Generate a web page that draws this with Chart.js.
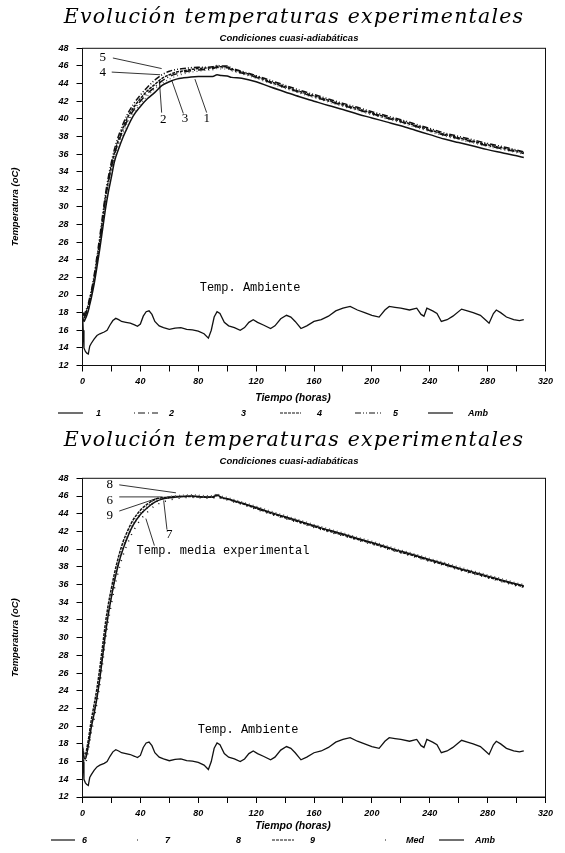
<!DOCTYPE html>
<html lang="es">
<head>
<meta charset="utf-8">
<title>Evolución temperaturas experimentales</title>
<script src="https://cdn.jsdelivr.net/npm/chart.js@4.4.1/dist/chart.umd.min.js"></script>
<style>
  html, body { margin: 0; padding: 0; background: #fff; }
  body { width: 565px; height: 853px; position: relative; overflow: hidden; }
  .panel { position: absolute; left: 0; width: 565px; }
  #top { top: 0; height: 426px; }
  #bottom { top: 426px; height: 427px; }
</style>
</head>
<body>
<div class="panel" id="top"><canvas id="chartTop"></canvas></div>
<div class="panel" id="bottom"><canvas id="chartBottom"></canvas></div>
<script>
// tiempo (horas) comun a las series de temperatura
const horas = [0, 1, 2, 3, 4, 5, 6, 8, 10, 12, 14, 16, 18, 20, 22, 25, 28, 31, 35, 40, 45, 50, 55, 60, 65, 70, 75, 80, 85, 90, 93, 96, 100, 103, 110, 120, 130, 140, 150, 160, 170, 180, 190, 200, 210, 220, 230, 240, 250, 260, 270, 280, 290, 300, 305];

// grafico superior: series 1..5
const serie1 = [17.5, 17.0, 17.3, 17.7, 18.2, 18.9, 19.6, 21.2, 23.2, 25.3, 27.6, 29.9, 31.8, 33.4, 35.1, 36.6, 37.9, 39.0, 40.3, 41.4, 42.3, 43.0, 43.8, 44.2, 44.5, 44.65, 44.75, 44.8, 44.8, 44.8, 45.0, 44.9, 44.85, 44.7, 44.6, 44.2, 43.6, 43.05, 42.5, 42.0, 41.5, 41.05, 40.55, 40.1, 39.65, 39.2, 38.7, 38.2, 37.7, 37.3, 36.9, 36.5, 36.15, 35.8, 35.6];
const serie2 = [17.8, 17.4, 17.7, 18.1, 18.6, 19.3, 20.0, 21.7, 23.8, 26.0, 28.5, 31.0, 32.9, 34.5, 35.9, 37.4, 38.7, 39.8, 40.9, 42.0, 42.9, 43.6, 44.3, 44.8, 45.1, 45.3, 45.45, 45.55, 45.6, 45.7, 45.85, 45.8, 45.8, 45.55, 45.2, 44.7, 44.1, 43.55, 43.0, 42.5, 42.0, 41.5, 41.05, 40.55, 40.1, 39.65, 39.15, 38.65, 38.15, 37.75, 37.35, 36.95, 36.6, 36.25, 36.05];
const serie3 = [17.6, 17.2, 17.5, 17.9, 18.4, 19.1, 19.8, 21.5, 23.6, 25.8, 28.2, 30.7, 32.6, 34.2, 35.6, 37.1, 38.4, 39.5, 40.6, 41.7, 42.6, 43.4, 44.0, 44.5, 44.85, 45.1, 45.3, 45.4, 45.5, 45.55, 45.7, 45.65, 45.65, 45.45, 45.1, 44.6, 44.0, 43.45, 42.9, 42.4, 41.9, 41.4, 40.95, 40.45, 40.0, 39.55, 39.05, 38.55, 38.05, 37.65, 37.25, 36.85, 36.5, 36.15, 35.95];
const serie4 = [18.0, 17.6, 17.9, 18.3, 18.8, 19.5, 20.2, 21.9, 24.0, 26.2, 28.7, 31.2, 33.1, 34.7, 36.1, 37.7, 39.0, 40.1, 41.2, 42.3, 43.2, 43.9, 44.6, 45.0, 45.3, 45.45, 45.6, 45.7, 45.75, 45.8, 45.95, 45.9, 45.9, 45.65, 45.3, 44.8, 44.2, 43.65, 43.1, 42.6, 42.1, 41.6, 41.15, 40.65, 40.2, 39.75, 39.25, 38.75, 38.25, 37.85, 37.45, 37.05, 36.7, 36.35, 36.15];
const serie5 = [18.0, 17.8, 18.1, 18.5, 19.0, 19.7, 20.4, 22.2, 24.4, 26.7, 29.2, 31.6, 33.5, 35.1, 36.5, 38.1, 39.4, 40.5, 41.6, 42.7, 43.6, 44.4, 45.0, 45.4, 45.6, 45.7, 45.8, 45.85, 45.85, 45.9, 46.05, 46.0, 46.0, 45.75, 45.4, 44.9, 44.35, 43.8, 43.25, 42.75, 42.25, 41.75, 41.3, 40.8, 40.35, 39.9, 39.4, 38.9, 38.4, 38.0, 37.6, 37.2, 36.85, 36.45, 36.25];

// grafico inferior: series 6..9 y media
const serie6 = [17.3, 16.5, 16.3, 16.9, 17.8, 18.8, 19.8, 21.4, 23.2, 25.4, 28.0, 30.6, 32.8, 34.6, 36.3, 38.4, 40.0, 41.3, 42.7, 43.9, 44.7, 45.3, 45.65, 45.8, 45.9, 45.95, 46.0, 45.95, 45.9, 45.9, 46.1, 45.85, 45.7, 45.55, 45.2, 44.7, 44.15, 43.65, 43.15, 42.65, 42.15, 41.7, 41.2, 40.75, 40.25, 39.75, 39.3, 38.8, 38.35, 37.85, 37.4, 36.95, 36.5, 36.05, 35.85];
const serie7 = [17.0, 16.0, 15.8, 16.4, 17.2, 18.2, 19.2, 20.8, 22.6, 24.7, 27.2, 29.8, 32.0, 33.8, 35.5, 37.6, 39.3, 40.6, 42.0, 43.3, 44.2, 44.9, 45.3, 45.55, 45.7, 45.8, 45.85, 45.8, 45.75, 45.75, 45.95, 45.7, 45.55, 45.4, 45.05, 44.5, 43.95, 43.45, 42.95, 42.45, 41.95, 41.5, 41.0, 40.55, 40.05, 39.55, 39.1, 38.6, 38.15, 37.65, 37.2, 36.75, 36.3, 35.85, 35.65];
const serie8 = [17.5, 16.8, 16.6, 17.2, 18.0, 19.0, 20.0, 21.6, 23.4, 25.6, 28.2, 30.8, 33.0, 34.8, 36.5, 38.6, 40.2, 41.5, 42.9, 44.1, 44.9, 45.5, 45.8, 45.95, 46.05, 46.1, 46.15, 46.1, 46.05, 46.05, 46.25, 46.0, 45.85, 45.7, 45.35, 44.85, 44.3, 43.8, 43.3, 42.8, 42.3, 41.85, 41.35, 40.9, 40.4, 39.9, 39.45, 38.95, 38.5, 38.0, 37.55, 37.1, 36.65, 36.2, 36.0];
const serie9 = [17.6, 16.9, 16.8, 17.5, 18.4, 19.5, 20.6, 22.4, 24.3, 26.6, 29.2, 31.8, 33.9, 35.6, 37.2, 39.2, 40.8, 42.0, 43.3, 44.4, 45.1, 45.6, 45.8, 45.9, 45.95, 45.95, 45.95, 45.9, 45.85, 45.85, 46.05, 45.8, 45.65, 45.5, 45.15, 44.6, 44.05, 43.55, 43.05, 42.55, 42.05, 41.6, 41.1, 40.65, 40.15, 39.65, 39.2, 38.7, 38.25, 37.75, 37.3, 36.85, 36.4, 35.95, 35.75];
const media = [17.35, 16.55, 16.4, 17.0, 17.85, 18.9, 19.9, 21.55, 23.4, 25.6, 28.15, 30.75, 32.9, 34.7, 36.4, 38.45, 40.1, 41.35, 42.7, 43.9, 44.7, 45.3, 45.65, 45.8, 45.9, 45.95, 46.0, 45.95, 45.9, 45.9, 46.1, 45.85, 45.7, 45.55, 45.2, 44.65, 44.1, 43.6, 43.1, 42.6, 42.1, 41.65, 41.15, 40.7, 40.2, 39.7, 39.25, 38.75, 38.3, 37.8, 37.35, 36.9, 36.45, 36.0, 35.8];

// temperatura ambiente (mismo registro en ambos graficos)
const ambHoras = [0, 0.5, 1, 2, 3, 4, 5, 6, 8, 10, 12, 15, 17, 19, 21, 23, 25, 27, 30, 33, 36, 38, 40, 42, 44, 46, 48, 50, 53, 56, 60, 64, 68, 72, 76, 80, 84, 87, 89, 91, 93, 95, 98, 101, 105, 109, 112, 115, 118, 121, 125, 130, 133, 137, 141, 144, 147, 151, 155, 160, 165, 170, 175, 180, 185, 190, 195, 200, 205, 209, 212, 216, 220, 226, 231, 234, 236, 238, 242, 245, 248, 252, 256, 262, 266, 270, 275, 279, 281, 284, 286, 289, 293, 298, 302, 305];
const ambiente = [18.0, 16.0, 14.0, 13.6, 13.4, 13.3, 14.2, 14.5, 15.0, 15.4, 15.6, 15.8, 16.0, 16.6, 17.1, 17.35, 17.2, 17.0, 16.9, 16.8, 16.6, 16.45, 16.7, 17.6, 18.1, 18.2, 17.8, 17.0, 16.5, 16.3, 16.1, 16.25, 16.3, 16.1, 16.05, 15.9, 15.6, 15.1, 16.0, 17.5, 18.1, 17.9, 16.9, 16.5, 16.3, 16.0, 16.3, 16.9, 17.2, 16.9, 16.6, 16.2, 16.5, 17.3, 17.7, 17.5, 17.0, 16.2, 16.5, 17.0, 17.2, 17.6, 18.2, 18.5, 18.7, 18.3, 18.0, 17.7, 17.5, 18.3, 18.7, 18.6, 18.5, 18.3, 18.5, 17.8, 17.6, 18.5, 18.2, 17.9, 17.0, 17.2, 17.6, 18.4, 18.2, 18.0, 17.7, 17.1, 16.8, 17.9, 18.3, 18.0, 17.5, 17.2, 17.1, 17.2];

const TITULO = 'Evolución temperaturas experimentales';
const SUBTITULO = 'Condiciones cuasi-adiabáticas';
const tickFont = { family: 'Liberation Sans', size: 9, style: 'italic', weight: 'bold' };

function pares(xs, ys) {
    return xs.map((h, i) => ({ x: h, y: ys[i] }));
}

function linea(label, xs, ys, dash, extra = {}) {
    return Object.assign({
        label,
        data: pares(xs, ys),
        borderColor: '#111',
        borderWidth: 1.5,
        borderDash: dash,
        pointRadius: 0,
        fill: false,
        cubicInterpolationMode: 'monotone'
    }, extra);
}

// titulos, marco, leyenda y rotulos dibujados encima del grafico
const decor = {
    id: 'decor',
    afterDraw(chart, args, o) {
        const { ctx, chartArea: a, scales: { x, y } } = chart;
        ctx.save();

        ctx.strokeStyle = '#111';
        ctx.lineWidth = 1;
        ctx.setLineDash([]);
        ctx.strokeRect(a.left, a.top, a.right - a.left, a.bottom - a.top);

        ctx.fillStyle = '#000';
        ctx.textAlign = 'center';
        ctx.textBaseline = 'middle';
        ctx.font = 'italic 20.5px "DejaVu Serif"';
        ctx.letterSpacing = '1.2px';
        ctx.fillText(TITULO, 294, o.titleY);
        ctx.letterSpacing = '0px';
        ctx.font = 'italic bold 9.5px "Liberation Sans"';
        ctx.fillText(SUBTITULO, 289, o.subY);

        ctx.font = 'italic bold 10.5px "Liberation Sans"';
        ctx.fillText('Tiempo (horas)', 293, o.xTitleY);

        ctx.save();
        ctx.translate(15, (a.top + a.bottom) / 2);
        ctx.rotate(-Math.PI / 2);
        ctx.font = 'italic bold 9.5px "Liberation Sans"';
        ctx.fillText('Temperatura (oC)', 0, 0);
        ctx.restore();

        // leyenda
        ctx.textAlign = 'left';
        o.legend.forEach(item => {
            const ds = chart.data.datasets[item.ds];
            if (item.x2 > item.x1) {
                ctx.beginPath();
                ctx.strokeStyle = ds.borderColor;
                ctx.lineWidth = 1.2;
                ctx.setLineDash(ds.borderDash || []);
                ctx.moveTo(item.x1, o.legendY);
                ctx.lineTo(item.x2, o.legendY);
                ctx.stroke();
            }
            ctx.setLineDash([]);
            ctx.fillStyle = '#000';
            ctx.font = 'italic bold 9px "Liberation Sans"';
            ctx.fillText(ds.label, item.tx, o.legendY + 1);
        });

        // flechas y rotulos en coordenadas de datos
        ctx.strokeStyle = '#000';
        ctx.lineWidth = 0.8;
        ctx.setLineDash([]);
        o.pointers.forEach(p => {
            ctx.beginPath();
            ctx.moveTo(x.getPixelForValue(p[0]), y.getPixelForValue(p[1]));
            ctx.lineTo(x.getPixelForValue(p[2]), y.getPixelForValue(p[3]));
            ctx.stroke();
        });
        o.notes.forEach(n => {
            ctx.font = n.font;
            ctx.textAlign = n.align || 'center';
            ctx.fillText(n.text, x.getPixelForValue(n.t), y.getPixelForValue(n.T));
        });

        ctx.restore();
    }
};

function opciones(padTop, xHeight, decorOpts) {
    return {
        responsive: true,
        maintainAspectRatio: false,
        animation: false,
        devicePixelRatio: 1,
        layout: { padding: { top: padTop, right: 19.5, bottom: 0, left: 0 } },
        plugins: {
            legend: { display: false },
            title: { display: false },
            tooltip: { enabled: false },
            decor: decorOpts
        },
        scales: {
            x: {
                type: 'linear',
                min: 0,
                max: 320,
                afterFit: s => { s.height = xHeight; },
                ticks: {
                    stepSize: 20,
                    autoSkip: false,
                    maxRotation: 0,
                    padding: 5,
                    color: '#000',
                    font: tickFont,
                    callback: v => (v % 40 === 0 ? String(v) : '')
                },
                grid: { drawOnChartArea: false, drawTicks: true, tickLength: 6, color: '#000' },
                border: { color: '#000', width: 1 }
            },
            y: {
                min: 12,
                max: 48,
                afterFit: s => { s.width = 82.5; },
                ticks: { stepSize: 2, autoSkip: false, padding: 8, color: '#000', font: tickFont },
                grid: { drawOnChartArea: false, drawTicks: true, tickLength: 6, color: '#000' },
                border: { color: '#000', width: 1 }
            }
        }
    };
}

const numFont = '13px "Liberation Serif"';
const monoFont = '12px "Liberation Mono"';

new Chart(document.getElementById('chartTop'), {
    type: 'line',
    data: {
        datasets: [
            linea('1', horas, serie1, []),
            linea('2', horas, serie2, [1, 3, 7, 3]),
            linea('3', horas, serie3, [1, 3], { borderColor: '#555', borderWidth: 1.2 }),
            linea('4', horas, serie4, [3, 1]),
            linea('5', horas, serie5, [6, 2, 1, 2, 1, 2]),
            linea('Amb', ambHoras, ambiente, [], { cubicInterpolationMode: 'default', tension: 0, borderWidth: 1.3 })
        ]
    },
    options: opciones(48.3, 60.5, {
        titleY: 18,
        subY: 38,
        xTitleY: 398,
        legendY: 413,
        legend: [
            { ds: 0, x1: 58, x2: 83, tx: 96 },
            { ds: 1, x1: 134, x2: 158, tx: 169 },
            { ds: 2, x1: 0, x2: 0, tx: 241 },
            { ds: 3, x1: 280, x2: 301, tx: 317 },
            { ds: 4, x1: 355, x2: 381, tx: 393 },
            { ds: 5, x1: 428, x2: 453, tx: 468 }
        ],
        pointers: [
            [21, 46.9, 54.7, 45.7],
            [20.2, 45.3, 53.6, 45.0],
            [53.1, 44.4, 54.7, 40.7],
            [61.6, 44.4, 69.7, 40.6],
            [77.7, 44.5, 85.8, 40.7]
        ],
        notes: [
            { text: '5', t: 14, T: 47.0, font: numFont },
            { text: '4', t: 14, T: 45.2, font: numFont },
            { text: '2', t: 55.8, T: 39.9, font: numFont },
            { text: '3', t: 70.8, T: 40.0, font: numFont },
            { text: '1', t: 85.8, T: 40.0, font: numFont },
            { text: 'Temp. Ambiente', t: 81, T: 20.8, font: monoFont, align: 'left' }
        ]
    }),
    plugins: [decor]
});

new Chart(document.getElementById('chartBottom'), {
    type: 'line',
    data: {
        datasets: [
            linea('6', horas, serie6, []),
            linea('7', horas, serie7, [1, 6]),
            linea('8', horas, serie8, [1, 3], { borderColor: '#555', borderWidth: 1.2 }),
            linea('9', horas, serie9, [3, 1]),
            linea('Med', horas, media, [1, 5]),
            linea('Amb', ambHoras, ambiente, [], { cubicInterpolationMode: 'default', tension: 0, borderWidth: 1.3 })
        ]
    },
    options: opciones(52.3, 56, {
        titleY: 14.5,
        subY: 35,
        xTitleY: 400,
        legendY: 414,
        legend: [
            { ds: 0, x1: 51, x2: 75, tx: 82 },
            { ds: 1, x1: 137, x2: 140, tx: 165 },
            { ds: 2, x1: 0, x2: 0, tx: 236 },
            { ds: 3, x1: 272, x2: 294, tx: 310 },
            { ds: 4, x1: 385, x2: 388, tx: 406 },
            { ds: 5, x1: 439, x2: 464, tx: 475 }
        ],
        pointers: [
            [25.4, 47.26, 64.6, 46.36],
            [25.4, 45.9, 55.4, 45.9],
            [25.4, 44.3, 51.9, 45.76],
            [58.4, 42.2, 56.1, 45.5],
            [49.7, 40.4, 43.8, 43.45]
        ],
        notes: [
            { text: '8', t: 18.9, T: 47.26, font: numFont },
            { text: '6', t: 18.9, T: 45.53, font: numFont },
            { text: '9', t: 18.9, T: 43.83, font: numFont },
            { text: '7', t: 60, T: 41.6, font: numFont },
            { text: 'Temp. media experimental', t: 37.4, T: 39.85, font: monoFont, align: 'left' },
            { text: 'Temp. Ambiente', t: 79.6, T: 19.6, font: monoFont, align: 'left' }
        ]
    }),
    plugins: [decor]
});
</script>
</body>
</html>
